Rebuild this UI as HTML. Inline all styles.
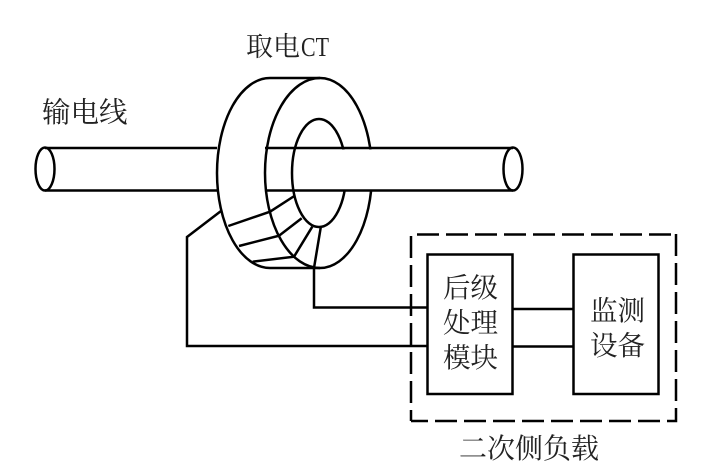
<!DOCTYPE html>
<html><head><meta charset="utf-8">
<style>html,body{margin:0;padding:0;background:#fff}svg{display:block}
text{font-family:"Liberation Serif","Noto Serif CJK SC",serif;font-size:27.5px;fill:#222}</style></head>
<body>
<svg width="704" height="468" viewBox="0 0 704 468" xmlns="http://www.w3.org/2000/svg">
<g fill="none" stroke="#000" stroke-width="2.500">
<!-- CT body -->
<path d="M270 78H320M270 268H320"/>
<path d="M270 78A53 95 0 0 0 270 268"/>
<ellipse cx="319" cy="173" rx="27" ry="54"/>
<path d="M320 78A52 95 0 0 1 372 173A52 95 0 0 1 320 268A55 95 0 0 1 265 173A55 95 0 0 1 320 78"/>
<!-- conductor hides right side of hole and ring -->
<rect x="340" y="149.500" width="36" height="40" fill="#fff" stroke="none"/>
<path d="M45 148H217M265 148H513M45 190.500H217M265 190.500H513"/>
<ellipse cx="45" cy="169" rx="9.500" ry="21.500"/>
<ellipse cx="513" cy="169" rx="9.500" ry="21.500"/>
<!-- windings -->
<path d="M294.300 196L270 211.700L228.300 226"/>
<path d="M301.700 218.300L279 235.700L239 246"/>
<path d="M312.300 226.700L294 256.700L252.700 261.700"/>
<path d="M320.700 227.700L314 268V307.500H428"/>
<path d="M221 211L187 237V346H428"/>
<!-- secondary dashed frame -->
<path d="M417 234.500H676" stroke-dasharray="22 7"/>
<path d="M676 234V421H411" stroke-dasharray="22 7"/>
<path d="M411 236V421" stroke-dasharray="22 7"/>
<rect x="427.500" y="254.500" width="85" height="139.500" fill="#fff"/>
<rect x="573.500" y="254.500" width="85" height="139.500" fill="#fff"/>
<path d="M512.500 309H573.500M512.500 346.500H573.500"/>
</g>
<text x="246" y="56" style="font-size:27px">取电</text>
<text x="301" y="56" textLength="28" lengthAdjust="spacingAndGlyphs" style="font-size:27px">CT</text>
<text x="42" y="122" style="font-size:28.500px">输电线</text>
<text x="443" y="297">后级</text>
<text x="443" y="332">处理</text>
<text x="443" y="367">模块</text>
<text x="590" y="320">监测</text>
<text x="590" y="355">设备</text>
<text x="459" y="458" style="font-size:28px">二次侧负载</text>
</svg>
</body></html>
